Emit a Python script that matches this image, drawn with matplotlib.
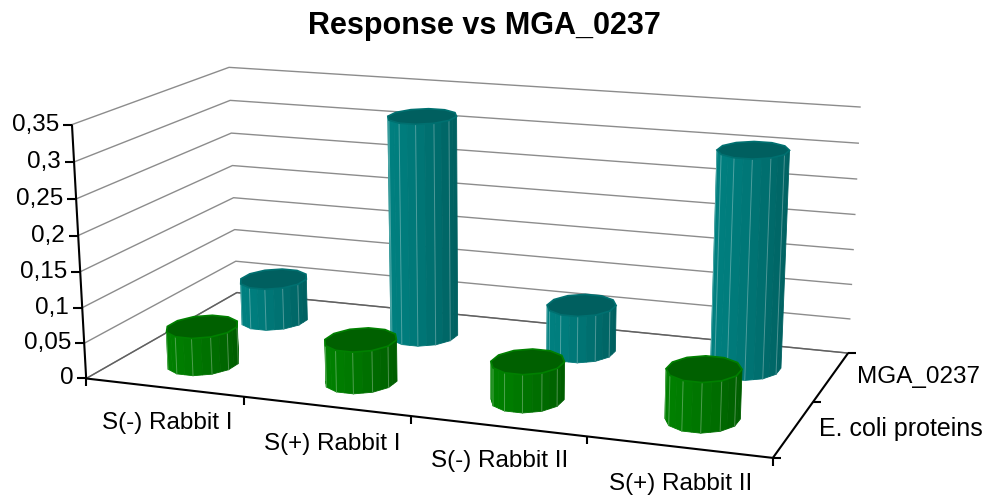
import numpy as np
import matplotlib
matplotlib.use("Agg")
import matplotlib.pyplot as plt
from matplotlib.colors import to_rgb

categories = ["S(-) Rabbit I", "S(+) Rabbit I", "S(-) Rabbit II", "S(+) Rabbit II"]
series_names = ["E. coli proteins", "MGA_0237"]
ecoli_values = [0.053, 0.058, 0.052, 0.067]
mga_values = [0.062, 0.32, 0.067, 0.305]
y_ticks = [0, 0.05, 0.1, 0.15, 0.2, 0.25, 0.3, 0.35]
y_labels = ["0", "0,05", "0,1", "0,15", "0,2", "0,25", "0,3", "0,35"]

plt.rcParams["font.family"] = ["Liberation Sans", "DejaVu Sans"]

# chart box corners as seen in the picture, used to fit the perspective
box_3d = [(0, 0, 0), (0, 0, 0.35), (0, 2, 0), (0, 2, 0.35), (4, 2, 0), (4, 2, 0.35), (4, 0, 0)]
box_px = [(86, 378), (72, 125), (237, 293), (229, 67), (848, 353), (860, 107), (773, 458)]


def fit_camera(pts, px):
    rows, rhs = [], []
    for (u, v, z), (x, y) in zip(pts, px):
        z = z * 10
        rows.append([u, v, z, 1, 0, 0, 0, 0, -x * u, -x * v, -x * z])
        rows.append([0, 0, 0, 0, u, v, z, 1, -y * u, -y * v, -y * z])
        rhs += [x, y]
    sol = np.linalg.lstsq(np.array(rows, float), np.array(rhs, float), rcond=None)[0]
    return np.append(sol, 1).reshape(3, 4)


cam = fit_camera(box_3d, box_px)


def proj(u, v, z):
    q = cam @ np.array([u, v, z * 10, 1.0])
    return q[0] / q[2], q[1] / q[2]


def mix(a, b, t):
    a, b = np.array(to_rgb(a)), np.array(to_rgb(b))
    return tuple(a + (b - a) * t)


def ring(u0, v0, z, ru=0.2, rv=0.25, sides=12):
    # a 12 sided outline, each side split in two facets
    ang = np.linspace(0, 2 * np.pi, sides + 1) + np.pi / sides
    cu = u0 + ru * np.cos(ang)
    cv = v0 + rv * np.sin(ang)
    out = []
    for i in range(sides):
        out.append(proj(cu[i], cv[i], z))
        out.append(proj((cu[i] + cu[i + 1]) / 2, (cv[i] + cv[i + 1]) / 2, z))
    out.append(out[0])
    return out


def cylinder(ax, u0, v0, val, light, dark, top, rim, order):
    base = ring(u0, v0, 0)
    head = ring(u0, v0, val)
    xs = [p[0] for p in base + head]
    xmin, xmax = min(xs), max(xs)
    for i in range(len(base) - 1):
        quad = np.array([base[i], base[i + 1], head[i + 1], head[i]])
        x, y = quad[:, 0], quad[:, 1]
        area = np.dot(x, np.roll(y, 1)) - np.dot(y, np.roll(x, 1))
        if area < 0:
            continue
        t = np.clip((x.mean() - xmin) / (xmax - xmin), 0, 1)
        col = mix(light, dark, t ** 1.5)
        ax.fill(x, y, color=col, lw=0.6, zorder=order)
        if i % 2 == 0:
            ax.plot([x[0], x[3]], [y[0], y[3]], color=mix(col, "#ffffff", 0.3), lw=0.7, zorder=order + 0.1)
    ax.fill(*zip(*head), facecolor=top, edgecolor=rim, lw=1.2, zorder=order + 0.2)


fig = plt.figure(figsize=(9.88, 4.95), dpi=100)
ax = fig.add_axes([0, 0, 1, 1])
ax.set_xlim(0, 988)
ax.set_ylim(495, 0)
ax.axis("off")

# walls
for tick in y_ticks:
    pts = [proj(0, 0, tick), proj(0, 2, tick), proj(4, 2, tick)]
    ax.plot(*zip(*pts), color="#8c8c8c", lw=1.0, zorder=1)
ax.plot(*zip(proj(0, 0, 0), proj(0, 2, 0), proj(4, 2, 0)), color="#606060", lw=1.0, zorder=1)

# back row first, then front row
for i in range(len(categories)):
    cylinder(ax, i + 0.5, 1.5, mga_values[i], "#008080", "#005f5f", "#005f5f", "#007070", 2 + i)
for i in range(len(categories)):
    cylinder(ax, i + 0.5, 0.5, ecoli_values[i], "#008000", "#005c00", "#006000", "#008000", 10 + i)

# axes
black = dict(color="black", lw=1.5, zorder=20, solid_capstyle="butt")
ax.plot(*zip(proj(0, 0, 0), proj(0, 0, 0.35)), **black)
ax.plot(*zip(proj(0, 0, 0), proj(4, 0, 0)), **black)
ax.plot(*zip(proj(4, 0, 0), proj(4, 2, 0)), **black)
for tick, lab in zip(y_ticks, y_labels):
    x, y = proj(0, 0, tick)
    ax.plot([x - 9, x], [y, y], **black)
    ax.text(x - 13, y, lab, ha="right", va="center", fontsize=17.5)
for i in range(len(categories) + 1):
    x, y = proj(i, 0, 0)
    ax.plot([x, x], [y, y + 8], **black)
for v in range(3):
    x, y = proj(4, v, 0)
    ax.plot([x, x + 8], [y, y], **black)

cat_x = [232, 400, 568, 752]
cat_y = [423, 444, 461, 484]
for lab, x, y in zip(categories, cat_x, cat_y):
    ax.text(x, y, lab, ha="right", va="center", fontsize=17.5)
ax.text(857, 377, series_names[1], ha="left", va="center", fontsize=17.5)
ax.text(819, 429, series_names[0], ha="left", va="center", fontsize=18)
ax.text(484, 26, "Response vs MGA_0237", ha="center", va="center", fontsize=22, fontweight="bold")

fig.savefig("out.png", dpi=100)
